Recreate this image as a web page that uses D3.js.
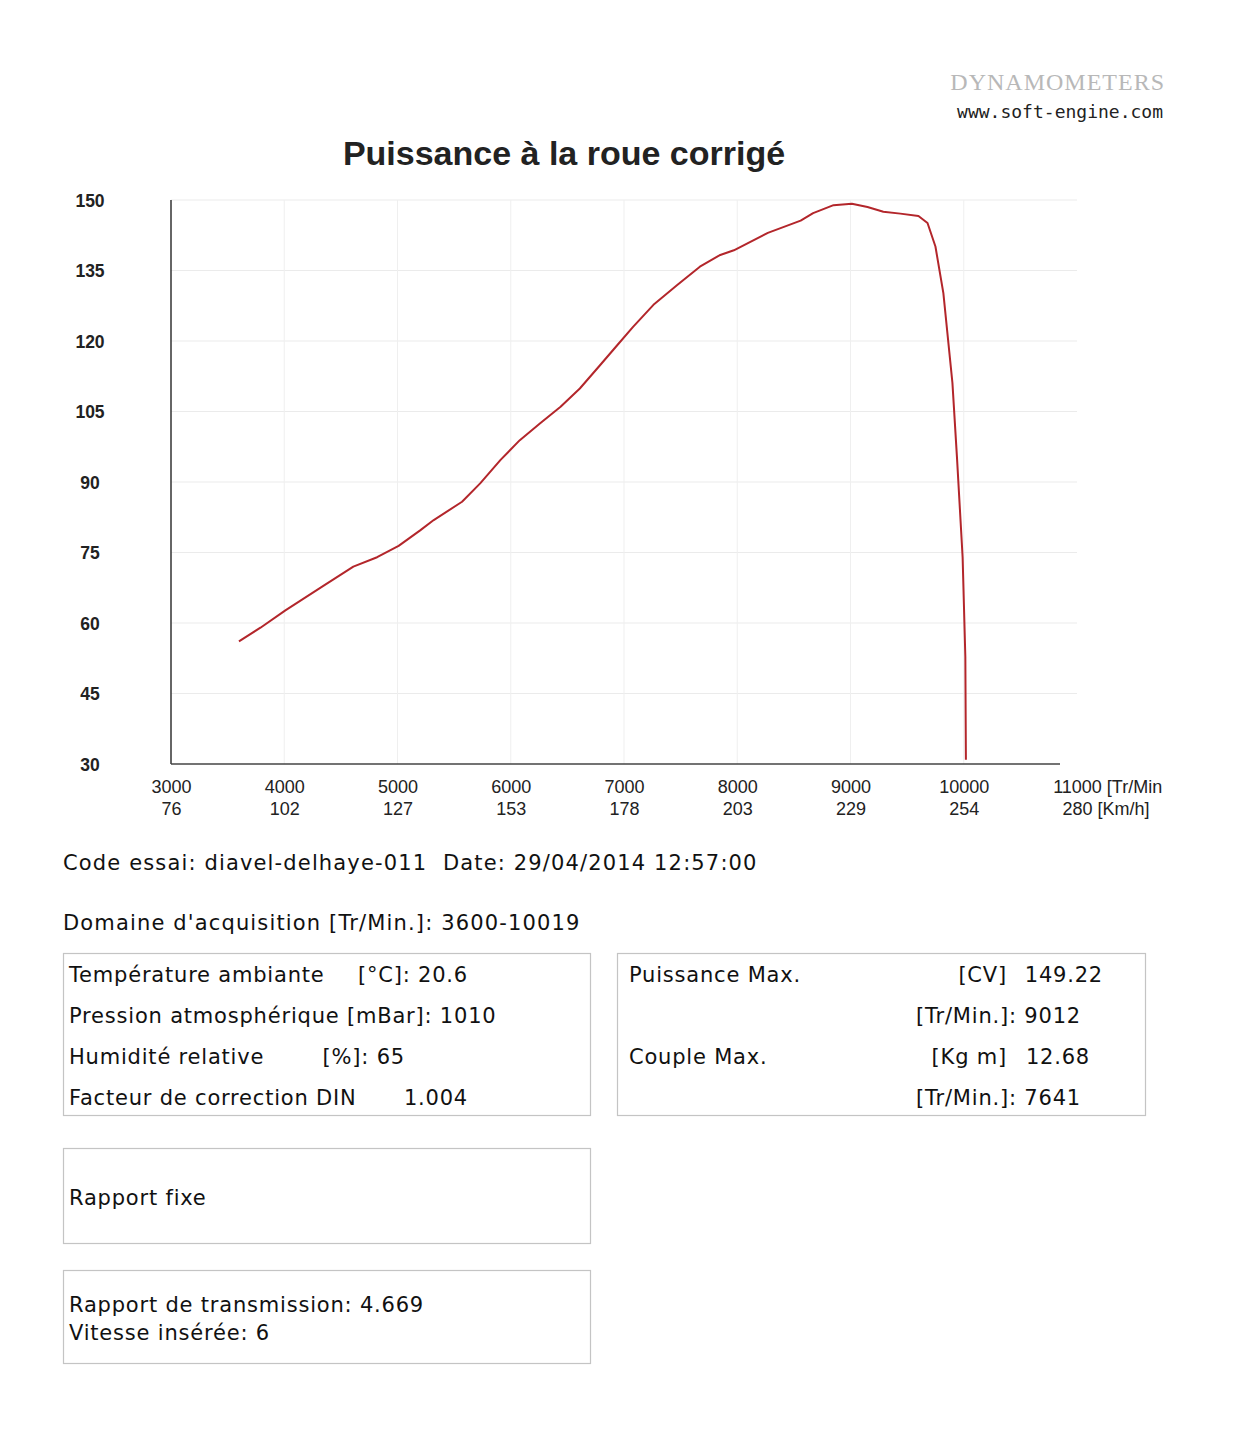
<!DOCTYPE html>
<html>
<head>
<meta charset="utf-8">
<script src="https://cdn.jsdelivr.net/npm/d3@7"></script>
<style>
  html, body { margin: 0; padding: 0; background: #fff; }
  svg { display: block; }
  text { white-space: pre; }
</style>
</head>
<body>
<svg id="chart" width="1234" height="1440"></svg>
<script>
// ---------- DATA ----------
const rpm = [3600, 3790, 4010, 4140, 4345, 4610, 4820, 5010, 5200, 5320, 5570, 5730, 5910, 6080, 6260, 6440, 6610, 6790, 6940, 7080, 7260, 7470, 7670, 7850, 7970, 8270, 8560, 8670, 8850, 9012, 9150, 9290, 9440, 9600, 9680, 9750, 9820, 9900, 9940, 9990, 10014, 10019];
const puissance = [56.1, 59.0, 62.7, 64.7, 67.9, 72.0, 74.0, 76.4, 79.7, 81.9, 85.8, 89.7, 94.7, 98.9, 102.5, 106.0, 109.9, 114.9, 119.1, 123.0, 127.7, 131.9, 135.8, 138.3, 139.3, 143.0, 145.6, 147.2, 148.9, 149.2, 148.5, 147.5, 147.1, 146.6, 145.1, 140.1, 130.2, 111.1, 95.3, 74.0, 52.8, 30.9];
const yTicks = [30, 45, 60, 75, 90, 105, 120, 135, 150];
const xTicks = [3000, 4000, 5000, 6000, 7000, 8000, 9000, 10000, 11000];
const kmhLabels = ["76", "102", "127", "153", "178", "203", "229", "254", "280"];
const title = "Puissance à la roue corrigé";
const headerBrand = "DYNAMOMETERS";
const headerUrl = "www.soft-engine.com";
const infoLine1 = "Code essai: diavel-delhaye-011  Date: 29/04/2014 12:57:00";
const infoLine2 = "Domaine d'acquisition [Tr/Min.]: 3600-10019";

// ---------- SETUP ----------
const svg = d3.select("#chart");
const x = d3.scaleLinear().domain([3000, 11000]).range([171, 1077]);
const y = d3.scaleLinear().domain([30, 150]).range([764, 200]);
const sansFont = "'Liberation Sans', Arial, sans-serif";
const infoFont = "'DejaVu Sans', 'Noto Sans', sans-serif";

// header
svg.append("text").attr("x", 1165).attr("y", 90).attr("text-anchor", "end")
  .attr("font-family", "'Liberation Serif', serif").attr("font-size", 24)
  .attr("letter-spacing", 1).attr("fill", "#b8b8b8").text(headerBrand);
svg.append("text").attr("x", 1163).attr("y", 118).attr("text-anchor", "end")
  .attr("font-family", "'DejaVu Sans Mono', 'Liberation Mono', monospace").attr("font-size", 18)
  .attr("fill", "#222").text(headerUrl);

// title
svg.append("text").attr("x", 564).attr("y", 165).attr("text-anchor", "middle")
  .attr("font-family", sansFont).attr("font-weight", "bold").attr("font-size", 34)
  .attr("fill", "#222").text(title);

// gridlines
const grid = svg.append("g");
grid.selectAll("line.h").data(yTicks.slice(1)).join("line").attr("class", "h")
  .attr("x1", x(3000)).attr("x2", x(11000)).attr("y1", d => y(d)).attr("y2", d => y(d))
  .attr("stroke", "#ebebeb").attr("stroke-width", 1);
grid.selectAll("line.v").data(xTicks.slice(1, -1)).join("line").attr("class", "v")
  .attr("x1", d => x(d)).attr("x2", d => x(d)).attr("y1", y(150)).attr("y2", y(30))
  .attr("stroke", "#efefef").attr("stroke-width", 1);

// y axis labels
const yAxis = svg.append("g").attr("transform", `translate(${x(3000)},0)`)
  .call(d3.axisLeft(y).tickValues(yTicks).tickSize(0).tickPadding(0));
yAxis.select(".domain").remove();
yAxis.selectAll("text").attr("x", 90 - x(3000)).attr("text-anchor", "middle")
  .attr("dy", "0.35em")
  .attr("font-family", sansFont).attr("font-weight", "bold").attr("font-size", 17.5)
  .attr("fill", "#222");

// axis lines
svg.append("line").attr("x1", x(3000)).attr("x2", x(3000)).attr("y1", y(150)).attr("y2", y(30))
  .attr("stroke", "#333").attr("stroke-width", 1.5);
svg.append("line").attr("x1", x(3000)).attr("x2", 1060).attr("y1", y(30)).attr("y2", y(30))
  .attr("stroke", "#444").attr("stroke-width", 1.5);

// x axis labels (two rows)
const xAxis = svg.append("g").attr("transform", `translate(0,${y(30)})`)
  .call(d3.axisBottom(x).tickValues(xTicks).tickSize(0).tickPadding(0).tickFormat(d3.format("d")));
xAxis.select(".domain").remove();
xAxis.selectAll("text").attr("y", 29).attr("dy", 0)
  .attr("font-family", sansFont).attr("font-size", 18).attr("fill", "#222");
xAxis.selectAll(".tick").append("text").attr("y", 51)
  .attr("text-anchor", "middle")
  .attr("font-family", sansFont).attr("font-size", 18).attr("fill", "#222")
  .text((d, i) => kmhLabels[i]);
// units after last tick
const lastTick = xAxis.selectAll(".tick").filter(d => d === 11000);
lastTick.each(function () {
  const texts = d3.select(this).selectAll("text").nodes();
  texts.forEach((t, i) => {
    const w = t.getComputedTextLength();
    d3.select(this).append("text").attr("x", w / 2 + 5).attr("y", i === 0 ? 29 : 51)
      .attr("text-anchor", "start").attr("fill", "#222")
      .attr("font-family", sansFont).attr("font-size", 18)
      .text(i === 0 ? "[Tr/Min" : "[Km/h]");
  });
});

// curve
const line = d3.line().x((d, i) => x(rpm[i])).y(d => y(d)).curve(d3.curveLinear);
svg.append("path").datum(puissance).attr("d", line)
  .attr("fill", "none").attr("stroke", "#b3262b").attr("stroke-width", 2)
  .attr("stroke-linejoin", "round");

// info text
function txt(xp, yp, s, anchor, ls) {
  return svg.append("text").attr("x", xp).attr("y", yp)
    .attr("text-anchor", anchor || "start")
    .attr("font-family", infoFont).attr("font-size", 21)
    .attr("letter-spacing", ls === undefined ? 0.8 : ls)
    .attr("fill", "#111").text(s);
}
txt(63, 870, infoLine1, "start", 1.15);
txt(63, 930, infoLine2, "start", 1.15);

// boxes
function box(x0, y0, x1, y1) {
  svg.append("rect").attr("x", x0).attr("y", y0).attr("width", x1 - x0).attr("height", y1 - y0)
    .attr("fill", "none").attr("stroke", "#c4c4c4").attr("stroke-width", 1.2);
}
box(63.5, 953.5, 590.5, 1115.5);
box(617.5, 953.5, 1145.5, 1115.5);
box(63.5, 1148.5, 590.5, 1243.5);
box(63.5, 1270.5, 590.5, 1363.5);

// box 1
txt(69, 982, "Température ambiante");
txt(468, 982, "[°C]: 20.6", "end");
txt(69, 1023, "Pression atmosphérique [mBar]: 1010");
txt(69, 1064, "Humidité relative");
txt(405, 1064, "[%]: 65", "end");
txt(69, 1105, "Facteur de correction DIN");
txt(468, 1105, "1.004", "end");

// box 2
txt(629, 982, "Puissance Max.");
txt(1007, 982, "[CV]", "end");
txt(1103, 982, "149.22", "end");
txt(1081, 1023, "[Tr/Min.]: 9012", "end");
txt(629, 1064, "Couple Max.");
txt(1007, 1064, "[Kg m]", "end");
txt(1090, 1064, "12.68", "end");
txt(1081, 1105, "[Tr/Min.]: 7641", "end");

// box 3 & 4
txt(69, 1205, "Rapport fixe");
txt(69, 1312, "Rapport de transmission: 4.669");
txt(69, 1340, "Vitesse insérée: 6");
</script>
</body>
</html>
